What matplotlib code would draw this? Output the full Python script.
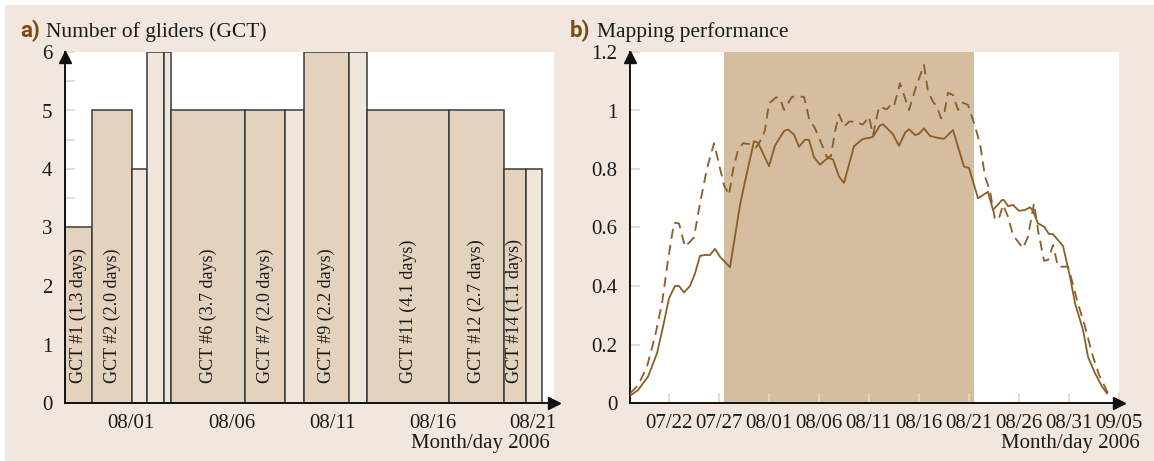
import numpy as np
import matplotlib
matplotlib.use("Agg")
import matplotlib.pyplot as plt
from matplotlib.patches import Rectangle

plt.rcParams['font.family'] = ['Liberation Serif', 'DejaVu Serif']

# --- a) glider deployments: bar edges in days after 08/01 ---
bar_edges = [-3.28, -1.94, 0.05, 0.80, 1.64, 1.99, 5.67, 7.66, 8.62,
             10.85, 11.76, 15.82, 18.54, 19.64, 20.43]
bar_heights = [3, 5, 4, 6, 6, 5, 5, 5, 6, 6, 5, 5, 4, 4]
bar_labels = ["GCT #1 (1.3 days)", "GCT #2 (2.0 days)", "", "", "",
              "GCT #6 (3.7 days)", "GCT #7 (2.0 days)", "",
              "GCT #9 (2.2 days)", "", "GCT #11 (4.1 days)",
              "GCT #12 (2.7 days)", "GCT #14 (1.1 days)", ""]
a_ticks = [0, 5, 10, 15, 20]
a_ticklabels = ["08/01", "08/06", "08/11", "08/16", "08/21"]

# --- b) mapping performance, days after 08/01 ---
solid_day = [-13.9, -13.1, -12.1, -11.2, -10.6, -10.0, -9.4, -9.0, -8.5, -7.9,
             -7.4, -6.9, -6.4, -5.9, -5.4, -4.9, -3.9, -3.4, -2.9, -2.4,
             -1.5, -1.1, 0.0, 0.6, 1.5, 1.9, 2.5, 3.0, 3.6, 4.0,
             4.5, 5.1, 5.9, 6.4, 7.0, 7.5, 8.5, 9.4, 10.1, 10.4,
             11.1, 11.4, 12.4, 13.0, 13.6, 14.0, 14.6, 15.0, 15.5, 16.1,
             16.8, 17.5, 18.4, 18.9, 19.5, 20.0, 20.9, 21.9, 22.4, 23.3,
             23.5, 23.9, 24.4, 25.0, 25.6, 26.1, 26.4, 26.9, 27.5, 28.0,
             28.4, 29.4, 30.1, 30.6, 31.4, 31.9, 32.6, 33.3, 33.8]
solid_val = [0.025, 0.044, 0.09, 0.17, 0.26, 0.358, 0.40, 0.40, 0.378, 0.40,
             0.443, 0.503, 0.506, 0.506, 0.527, 0.50, 0.464, 0.57, 0.677, 0.757,
             0.895, 0.89, 0.81, 0.88, 0.93, 0.935, 0.918, 0.876, 0.90, 0.90,
             0.84, 0.815, 0.838, 0.833, 0.774, 0.752, 0.878, 0.903, 0.907, 0.91,
             0.949, 0.953, 0.919, 0.879, 0.924, 0.936, 0.916, 0.92, 0.939, 0.913,
             0.907, 0.903, 0.933, 0.876, 0.808, 0.804, 0.70, 0.722, 0.66, 0.694,
             0.694, 0.673, 0.677, 0.657, 0.66, 0.669, 0.657, 0.614, 0.603, 0.578,
             0.577, 0.537, 0.432, 0.341, 0.25, 0.158, 0.102, 0.056, 0.033]

dash_day = [-13.9, -13.1, -12.2, -11.4, -10.7, -10.1, -9.5, -9.0, -8.4, -7.5,
            -6.9, -6.2, -5.5, -5.1, -4.5, -4.0, -3.6, -3.1, -2.6, -1.9,
            -1.3, -0.7, -0.4, 0.0, 0.2, 0.7, 1.1, 1.5, 2.3, 3.5,
            4.0, 4.6, 5.1, 5.8, 6.2, 6.6, 7.0, 7.5, 8.0, 8.4,
            9.4, 10.0, 10.4, 11.0, 11.8, 12.2, 12.5, 13.1, 13.5, 14.0,
            14.7, 15.5, 15.9, 16.4, 16.8, 17.2, 17.5, 17.9, 18.4, 18.9,
            19.4, 19.9, 20.4, 21.1, 21.6, 22.1, 22.6, 23.0, 23.4, 23.9,
            24.4, 25.4, 25.9, 26.5, 26.9, 27.5, 27.9, 28.4, 28.9, 29.9,
            30.1, 30.8, 31.6, 32.3, 33.0, 34.0]
dash_val = [0.033, 0.06, 0.124, 0.227, 0.341, 0.489, 0.616, 0.614, 0.534, 0.566,
            0.683, 0.802, 0.888, 0.831, 0.745, 0.711, 0.797, 0.865, 0.888, 0.885,
            0.873, 0.905, 0.933, 1.025, 1.03, 1.045, 1.042, 1.002, 1.047, 1.047,
            0.973, 0.939, 0.899, 0.84, 0.844, 0.928, 0.987, 0.945, 0.962, 0.962,
            0.952, 0.979, 0.916, 1.013, 1.004, 1.021, 1.015, 1.093, 1.053, 1.002,
            1.081, 1.156, 1.064, 1.03, 1.013, 0.973, 0.985, 1.061, 1.053, 1.002,
            1.027, 1.019, 0.968, 0.888, 0.774, 0.725, 0.626, 0.631, 0.677, 0.637,
            0.574, 0.529, 0.569, 0.683, 0.591, 0.486, 0.489, 0.54, 0.466, 0.466,
            0.443, 0.352, 0.261, 0.17, 0.096, 0.027]
glider_period = [-4.5, 20.5]
b_ticks = [-10, -5, 0, 5, 10, 15, 20, 25, 30, 35]
b_ticklabels = ["07/22", "07/27", "08/01", "08/06", "08/11", "08/16",
                "08/21", "08/26", "08/31", "09/05"]

# colours
bg = "#f1e7de"
bar_dark = "#e3d2bd"
bar_light = "#f1e6dc"
shade = "#d5bd9f"
line_c = "#8b5d27"
tick_c = "#e6d6c3"
head_c = "#7a4b12"

W, H = 1154, 461
fig = plt.figure(figsize=(W / 100, H / 100), dpi=100)
fig.patch.set_facecolor("white")
fig.patches.append(Rectangle((5 / W, 0), 1, (H - 5) / H, transform=fig.transFigure,
                             facecolor=bg, edgecolor="none", zorder=-10))


def style_axes(ax):
    ax.set_facecolor("white")
    for s in ["top", "right"]:
        ax.spines[s].set_visible(False)
    for s in ["left", "bottom"]:
        ax.spines[s].set_linewidth(1.4)
        ax.spines[s].set_color("#111111")
    ax.tick_params(axis="both", which="both", direction="in", length=7, width=1.2,
                   color=tick_c, labelsize=15, labelcolor="#1a1a1a")
    ax.tick_params(axis="y", pad=9)
    ax.tick_params(axis="x", pad=8)
    # arrow heads on both axes
    ax.plot(0, 0.985, marker="^", color="#111111", markersize=8,
            transform=ax.transAxes, clip_on=False, zorder=5)
    ax.plot(1.0, 0, marker=">", color="#111111", markersize=8,
            transform=ax.transAxes, clip_on=False, zorder=5)


# ---------- a) number of gliders ----------
ax1 = fig.add_axes([65 / W, 58 / H, 489 / W, 351 / H])
style_axes(ax1)
ax1.set_axisbelow(True)
edges = np.array(bar_edges)
widths = np.diff(edges)
for x0, w, h, lab in zip(edges[:-1], widths, bar_heights, bar_labels):
    fc = bar_dark if lab else bar_light
    ax1.bar(x0, h, width=w, align="edge", color=fc, edgecolor="#3a3a3a",
            linewidth=1.1, zorder=1)
    if lab:
        ax1.text(x0 + w / 2, 0.34, lab, rotation=90, ha="center", va="bottom",
                 fontsize=13, color="#1a1a1a", zorder=3)
ax1.set_xlim(-3.28, 21.04)
ax1.set_ylim(0, 6)
ax1.set_yticks(range(7))
ax1.set_yticks(np.arange(0.5, 6, 1.0), minor=True)
ax1.set_xticks(a_ticks)
ax1.set_xticklabels(a_ticklabels)

# ---------- b) mapping performance ----------
ax2 = fig.add_axes([630 / W, 58 / H, 489 / W, 351 / H])
style_axes(ax2)
ax2.axvspan(glider_period[0], glider_period[1], color=shade, linewidth=0, zorder=0)
ax2.plot(solid_day, solid_val, color=line_c, linewidth=1.3, zorder=3)
ax2.plot(dash_day, dash_val, color=line_c, linewidth=1.3, linestyle=(0, (5.5, 3.5)),
         zorder=3)
ax2.set_xlim(-13.9, 35.0)
ax2.set_ylim(0, 1.2)
ax2.set_yticks([0, 0.2, 0.4, 0.6, 0.8, 1.0, 1.2])
ax2.set_yticklabels(["0", "0.2", "0.4", "0.6", "0.8", "1", "1.2"])
ax2.set_xticks(b_ticks)
ax2.set_xticklabels(b_ticklabels)

# panel titles and axis captions
for x_head, x_txt, head, txt in [(20, 46, "a)", "Number of gliders (GCT)"),
                                 (570, 597, "b)", "Mapping performance")]:
    fig.text(x_head / W, 1 - 37 / H, head, family=["Roboto", "DejaVu Sans"],
             fontweight="bold", fontsize=16, color=head_c, va="baseline")
    fig.text(x_txt / W, 1 - 37 / H, txt, fontsize=15.5, color="#1a1a1a", va="baseline")

fig.text(550 / W, 1 - 448 / H, "Month/day 2006", fontsize=15, color="#1a1a1a",
         ha="right", va="baseline")
fig.text(1140 / W, 1 - 448 / H, "Month/day 2006", fontsize=15, color="#1a1a1a",
         ha="right", va="baseline")

fig.savefig("out.png", dpi=100, facecolor=fig.get_facecolor())
